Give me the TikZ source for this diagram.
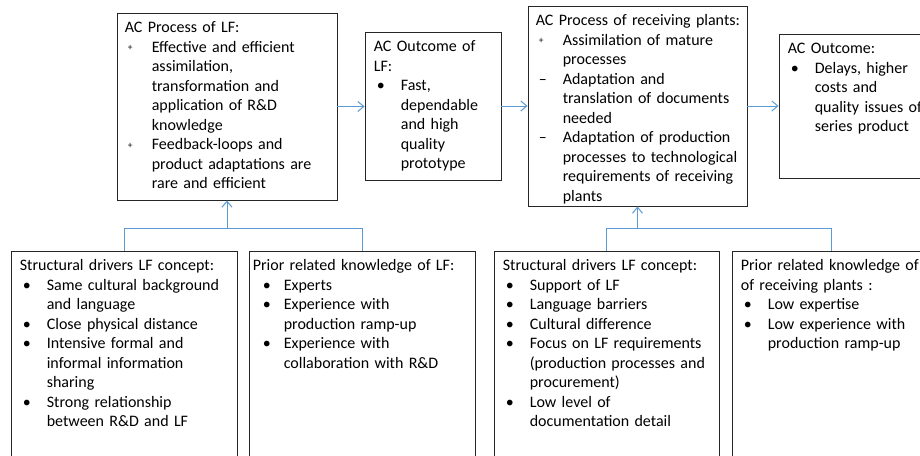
\documentclass[tikz,border=0pt]{standalone}
\usepackage{fontspec}
\setmainfont{Carlito}
\usetikzlibrary{arrows.meta,calc}

\definecolor{linkblue}{HTML}{5B9BD5}

\newcommand\bitem[2]{\par{\leftskip=20.25pt\noindent\hskip-20.25pt\makebox[20.25pt][l]{\hspace{2.25pt}#1}#2\par}}
\newcommand\plusmark{\raisebox{1pt}{\scriptsize +}}

\begin{document}
\begin{tikzpicture}
  [
    x=0.75pt, y=-0.75pt,
    block/.style =
      {draw=black!85, rectangle, line width=0.65pt, inner sep=0pt},
    btext/.style =
      {anchor=north west, inner sep=0pt, text width=220pt, align=left,
       font=\fontsize{12}{14.65}\selectfont},
    link/.style =
      {draw=linkblue, line width=0.75pt},
    sarrow/.style =
      {link, -{Straight Barb[length=4.5pt, width=7.5pt]}}
  ]

\useasboundingbox (0,0) rectangle (920,455);
\clip (0,0) rectangle (920,455);

\node[block, minimum width=165pt, minimum height=140.25pt] (pl) at (227,106.5) {};
\node[block, minimum width=102pt, minimum height=111pt] (ol) at (433,106) {};
\node[block, minimum width=164.25pt, minimum height=150pt] (pr) at (637.5,106) {};
\node[block, minimum width=135.75pt, minimum height=108pt] (or) at (869.5,106) {};

\node[block, minimum width=169.5pt, minimum height=164.25pt] (sl) at (124,360.5) {};
\node[block, minimum width=169.5pt, minimum height=164.25pt] (kl) at (362,360.5) {};
\node[block, minimum width=168.75pt, minimum height=164.25pt] (sr) at (606.5,360.5) {};
\node[block, minimum width=148.5pt, minimum height=164.25pt] (kr) at (831,360.5) {};

\node[btext] (pl-t) at ($(pl.north west)+(8,6)$) {\strut AC Process of LF:
  \bitem{\plusmark}{Effective and efficient\newline assimilation,\newline transformation and\newline application of R\&D\newline knowledge}
  \bitem{\plusmark}{Feedback-loops and\newline product adaptations are\newline rare and efficient}};

\node[btext] (ol-t) at ($(ol.north west)+(9,6)$) {\strut AC Outcome of\newline LF:
  \bitem{•}{Fast,\newline dependable\newline and high\newline quality\newline prototype}};

\node[btext] (pr-t) at ($(pr.north west)+(8,6)$) {\strut AC Process of receiving plants:
  \bitem{\plusmark}{Assimilation of mature\newline processes}
  \bitem{–}{Adaptation and\newline translation of documents\newline needed}
  \bitem{–}{Adaptation of production\newline processes to technological\newline requirements of receiving\newline plants}};

\node[btext] (or-t) at ($(or.north west)+(9,6)$) {\strut AC Outcome:
  \bitem{•}{Delays, higher\newline costs and\newline quality issues of\newline series product}};

\node[btext] (sl-t) at ($(sl.north west)+(9,6)$) {\strut Structural drivers LF concept:
  \bitem{•}{Same cultural background\newline and language}
  \bitem{•}{Close physical distance}
  \bitem{•}{Intensive formal and\newline informal information\newline sharing}
  \bitem{•}{Strong relationship\newline between R\&D and LF}};

\node[btext] (kl-t) at ($(kl.north west)+(8,6)$) {\strut\hspace*{-3pt}Prior related knowledge of LF:
  \bitem{\hspace{2.25pt}•}{Experts}
  \bitem{\hspace{2.25pt}•}{Experience with\newline production ramp-up}
  \bitem{\hspace{2.25pt}•}{Experience with\newline collaboration with R\&D}};

\node[btext] (sr-t) at ($(sr.north west)+(9,6)$) {\strut Structural drivers LF concept:
  \bitem{•}{Support of LF}
  \bitem{•}{Language barriers}
  \bitem{•}{Cultural difference}
  \bitem{•}{Focus on LF requirements\newline (production processes and\newline procurement)}
  \bitem{•}{Low level of\newline documentation detail}};

\node[btext] (kr-t) at ($(kr.north west)+(9,6)$) {\strut Prior related knowledge of\newline of receiving plants :
  \bitem{•}{Low expertise}
  \bitem{•}{Low experience with\newline production ramp-up}};

\draw [sarrow] (pl.east) -- (pl.east -| ol.west);
\draw [sarrow] (ol.east) -- (ol.east -| pr.west);
\draw [sarrow] (pr.east) -- (pr.east -| or.west);

\coordinate (lj) at (227,228);
\coordinate (rj) at (637.5,228);

\draw [link] (sl.north) |- (lj) -| (kl.north);
\draw [sarrow] (lj) -- (pl.south);
\draw [link] (sr.north) |- (rj) -| (kr.north);
\draw [sarrow] (rj) -- (pr.south);
\end{tikzpicture}
\end{document}
